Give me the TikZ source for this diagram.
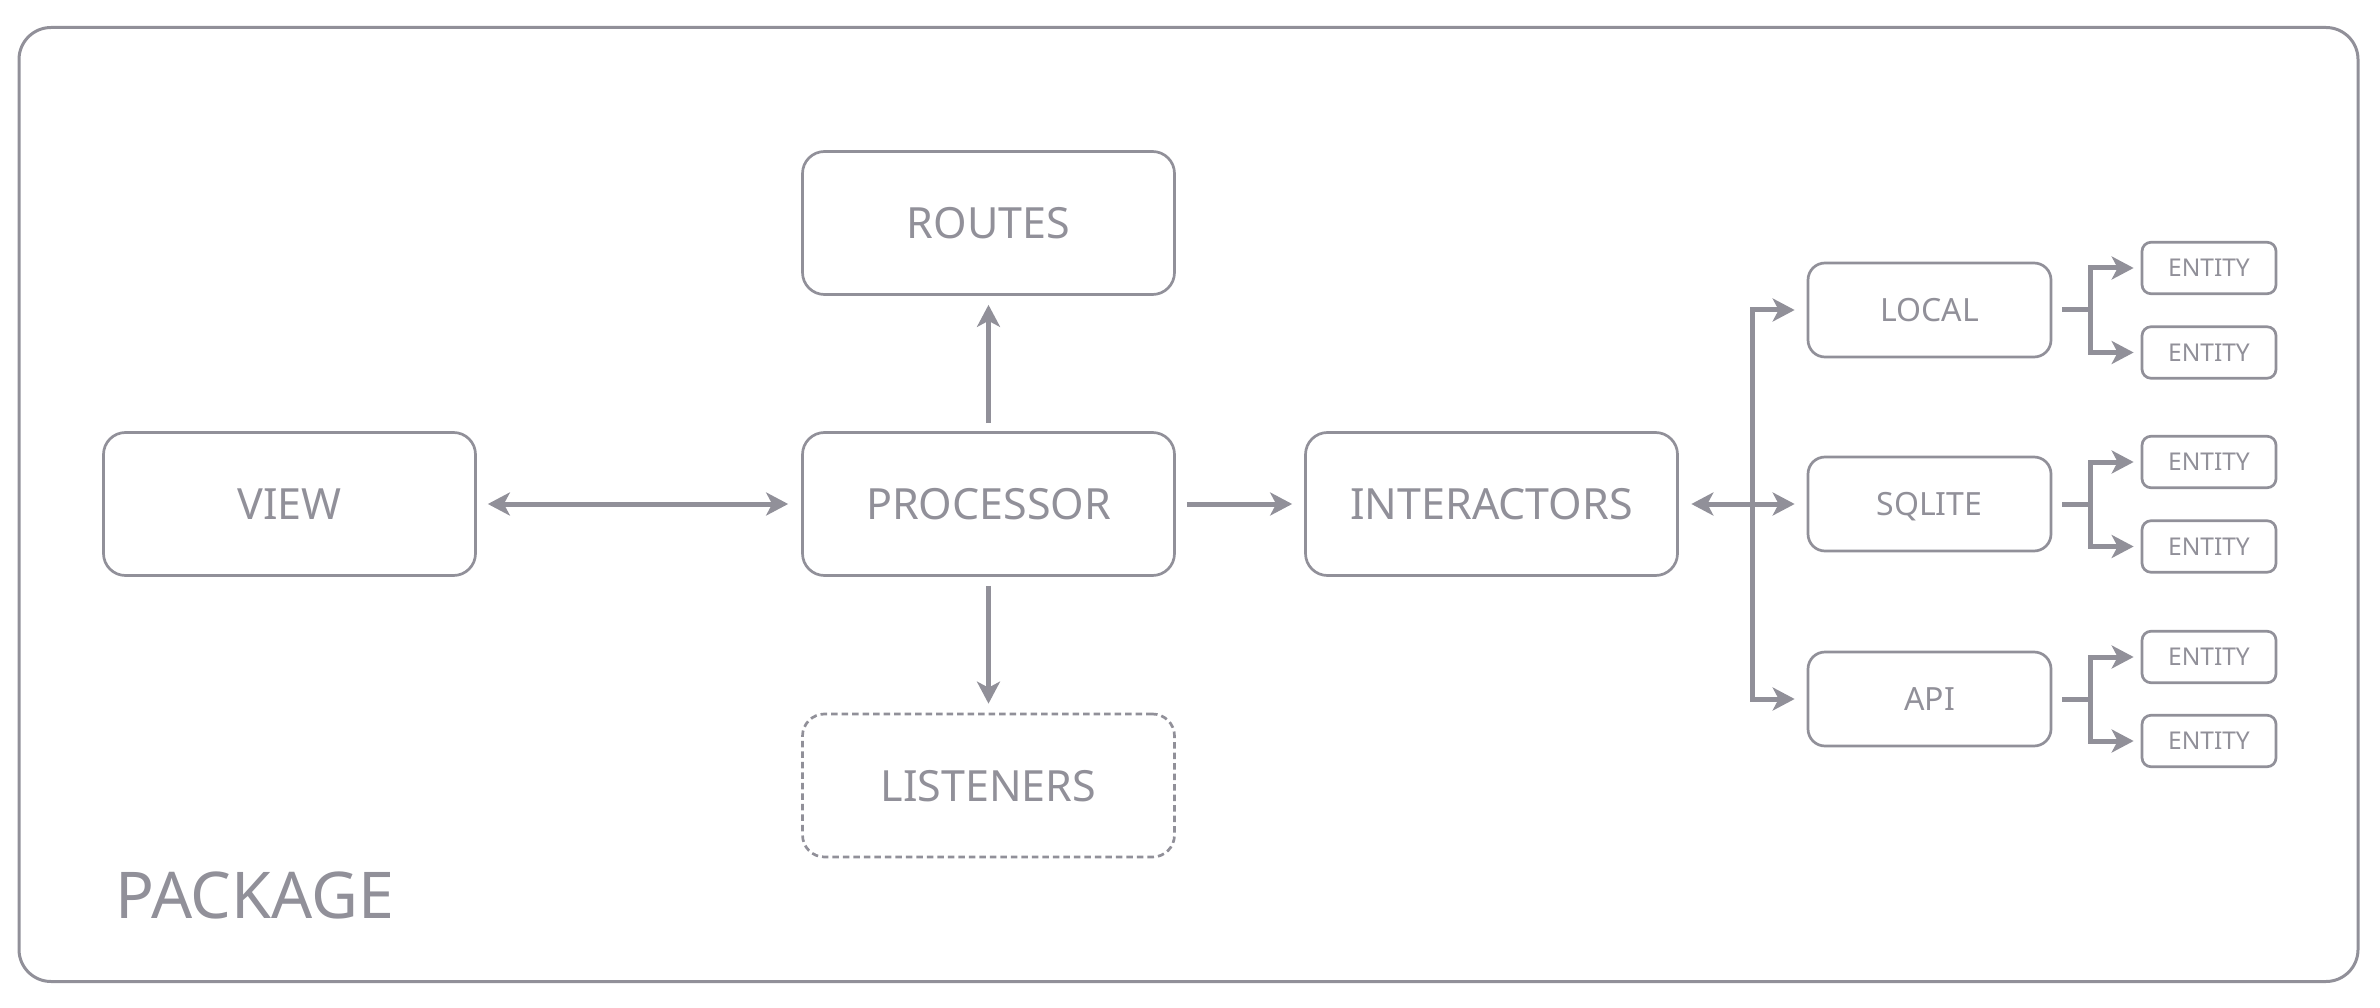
\documentclass[tikz,border=0pt]{standalone}
\usepackage{fontspec}
\setmainfont{Noto Sans}
\usetikzlibrary{arrows.meta}
\definecolor{gc}{RGB}{145,144,153}
\begin{document}
\begin{tikzpicture}[x=1pt,y=-1pt,
  every node/.style={text=gc},
  box/.style={draw=gc, line width=2.7pt, rounded corners=22pt, minimum width=372pt, minimum height=143pt, inner sep=0pt, text height=31pt, text depth=0pt, font=\fontsize{43}{43}\selectfont},
  midbox/.style={draw=gc, line width=2.7pt, rounded corners=17pt, minimum width=243pt, minimum height=94pt, inner sep=0pt, text height=22.6pt, text depth=0pt, font=\fontsize{32}{32}\selectfont},
  entbox/.style={draw=gc, line width=2.7pt, rounded corners=9pt, minimum width=134pt, minimum height=51.5pt, inner sep=0pt, text height=17.1pt, text depth=0pt, font=\fontsize{24.5}{24.5}\selectfont},
  >={Stealth[length=22pt,width=23pt,inset=6pt]},
  arr/.style={draw=gc, line width=5pt, ->, line join=miter},
  darr/.style={draw=gc, line width=5pt, <->},
]
\useasboundingbox (0,0) rectangle (2380,1008);
\draw[draw=gc, line width=3pt, rounded corners=32pt] (19,27.5) rectangle (2358,981.5);

% main nodes
\node[box] (view) at (289.5,504) {VIEW};
\node[box] (routes) at (988.5,223) {ROUTES};
\node[box] (proc) at (988.5,504) {PROCESSOR};
\node[box, dash pattern=on 6.5pt off 4pt] (lis) at (988.5,785.5) {LISTENERS};
\node[box] (inter) at (1491.5,504) {INTERACTORS};

\node[midbox] (local) at (1929.5,310) {LOCAL};
\node[midbox] (sqlite) at (1929.5,504) {SQLITE};
\node[midbox] (api) at (1929.5,699) {API};

\node[entbox] (eL1) at (2209,268) {ENTITY};
\node[entbox] (eL2) at (2209,352.5) {ENTITY};
\node[entbox] (eS1) at (2209,462) {ENTITY};
\node[entbox] (eS2) at (2209,546.5) {ENTITY};
\node[entbox] (eA1) at (2209,657) {ENTITY};
\node[entbox] (eA2) at (2209,741) {ENTITY};

\node[anchor=base west, inner sep=0pt, font=\fontsize{64.5}{64.5}\selectfont] (pkg) at (115,918) {PACKAGE};

% connectors
\draw[darr, shorten <=11pt, shorten >=13pt] (view) -- (proc);
\draw[arr, shorten <=8pt, shorten >=9pt] (proc) -- (routes);
\draw[arr, shorten <=9pt, shorten >=9pt] (proc) -- (lis);
\draw[arr, shorten <=11pt, shorten >=12pt] (proc) -- (inter);

\coordinate (bus) at (1752,504);
\draw[darr, shorten <=12.5pt, shorten >=12pt] (inter) -- (sqlite);
\draw[arr, shorten >=12pt] (bus) |- (local);
\draw[arr, shorten >=12pt] (bus) |- (api);

\coordinate (jL) at (2090,310);
\coordinate (jS) at (2090,504);
\coordinate (jA) at (2090,699);
\draw[arr, shorten >=7pt] ([xshift=10pt]local.east) -- (jL) |- (eL1);
\draw[arr, shorten >=7pt] ([xshift=10pt]local.east) -- (jL) |- (eL2);
\draw[arr, shorten >=7pt] ([xshift=10pt]sqlite.east) -- (jS) |- (eS1);
\draw[arr, shorten >=7pt] ([xshift=10pt]sqlite.east) -- (jS) |- (eS2);
\draw[arr, shorten >=7pt] ([xshift=10pt]api.east) -- (jA) |- (eA1);
\draw[arr, shorten >=7pt] ([xshift=10pt]api.east) -- (jA) |- (eA2);
\end{tikzpicture}
\end{document}
